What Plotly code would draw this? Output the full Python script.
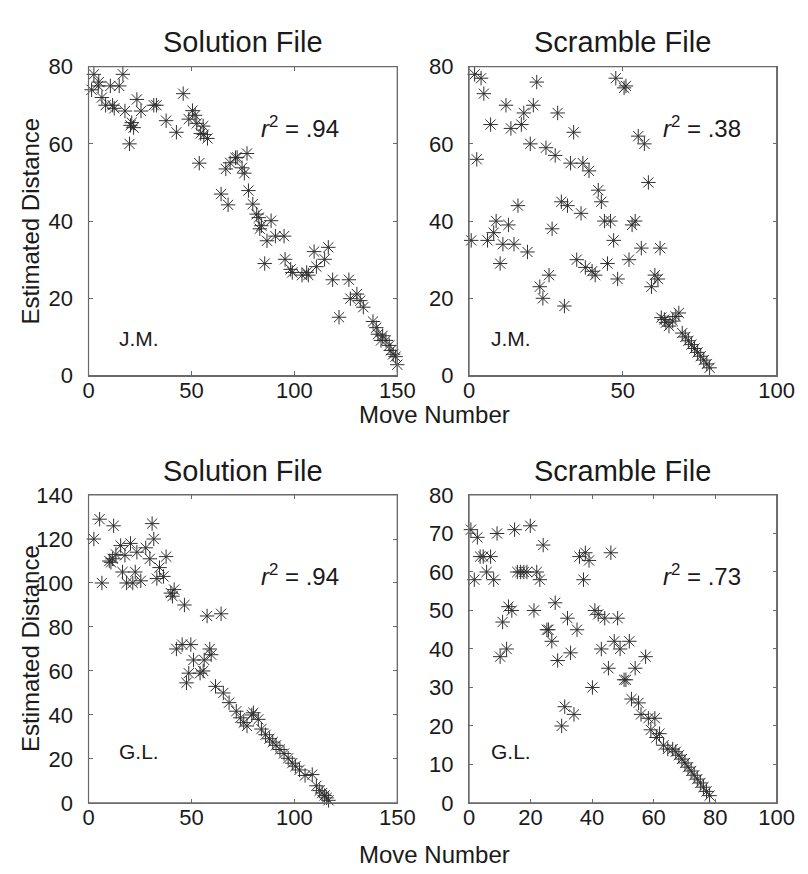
import plotly.graph_objects as go

# ---------------- data ----------------
# Top-left: J.M., Solution File
jm_sol_x = [1.5, 2.6, 4.7, 5, 6.5, 8.3, 10.6, 11.7, 12.5, 14.9, 16.7, 17.7, 19.9, 20.4, 21, 21.9, 23.5, 25.5,
            31.7, 33, 37.7, 42.7, 46, 48.7, 50.5, 51.8, 52.6, 53.8, 54.5, 55.7, 56, 57.8, 64.4, 66.7, 67.8, 68.8,
            71.4, 72.2, 74.6, 75.7, 77, 77.7, 79.8, 81.7, 82.7, 83.2, 84, 85.6, 86.7, 88.7, 90.8, 95, 95.5, 98.2,
            99, 103.7, 106, 106.8, 109.6, 110.7, 114.7, 116.5, 118.6, 121.7, 126.5, 127.2, 130.4, 132, 133.5,
            138.2, 139.8, 140.6, 142.1, 142.9, 144.5, 146.1, 146.9, 148, 149.2, 150]
jm_sol_y = [74, 78, 75, 76, 72, 70, 75, 70, 69.2, 75, 78, 68.5, 60, 64.8, 65.5, 64.2, 71.5, 68.5,
            70, 70, 66, 63, 73, 66.4, 68.6, 67.4, 65.3, 55, 62.7, 64.6, 62.4, 61.4, 47, 53.5, 44.2, 55.1,
            56.4, 56.5, 53.8, 52.4, 57.5, 47.9, 44.4, 41.8, 40.9, 38, 38.8, 29, 34.9, 40.1, 36.1, 36.1, 30.1, 27.5,
            26.7, 26, 26.7, 26, 32.1, 28.2, 30.1, 33.2, 24.8, 15.1, 24.8, 19.9, 21.1, 19.4, 17.7,
            14, 12.4, 10.7, 9.1, 10.3, 9.1, 7.8, 6.5, 5.5, 4.9, 2.8]

# Top-right: J.M., Scramble File
jm_scr_x = [0.7, 1.8, 2.5, 3.9, 4.8, 6, 7, 8, 8.8, 10.1, 11, 12, 12.8, 13.6, 14.6, 15.9, 17, 17.8, 19, 19.9,
            20.9, 22, 23, 24, 25, 26, 27, 28, 28.8, 30, 31, 32, 33, 34, 35, 36.4, 37, 37.8, 39, 40, 41, 42, 43,
            44, 45, 46, 47, 47.7, 48.3, 50.4, 51, 52, 53, 54, 55, 56, 57, 58.3, 59.3, 60.4, 61.4, 62.1, 62.5,
            63.5, 64, 65, 66.2, 67.2, 68.2, 69.3, 70.3, 71.3, 72.3, 73.3, 74.3, 75.3, 76.3, 77.3, 78.2]
jm_scr_y = [35, 78, 56, 77, 73, 35, 65, 37, 40, 29, 34, 70, 39, 64, 34, 44, 65, 68, 32, 60,
            70, 76, 23, 20, 59, 26, 38, 57, 68, 45, 18, 44, 55, 63, 30, 42, 55, 28, 53, 27, 26, 48, 45,
            40, 29, 40, 35, 77, 25, 74.5, 75, 30, 39, 40, 62, 33, 60, 50, 23, 26, 25, 33, 15,
            14.5, 13.7, 12.8, 14.1, 15.3, 16.2, 11, 10, 9, 8, 7, 6, 5, 4, 3, 2]

# Bottom-left: G.L., Solution File
gl_sol_x = [2.6, 5.4, 6.5, 10.1, 10.9, 11.7, 12.2, 13.3, 15.6, 16.5, 17.7, 18.5, 20.4, 21.5, 22.7, 23.5, 25.4,
            27.8, 29.8, 30.9, 31.7, 33.2, 34.5, 36.4, 37.7, 40, 40.8, 41.6, 42.7, 45.5, 46.6, 47.6, 48.7, 49.7,
            51, 54.2, 55.7, 56.2, 57.6, 58.9, 59.6, 61.7, 64.4, 65.5, 68.3, 71.8, 73.8, 75.4, 77, 79.3, 80.1,
            82.5, 84, 86, 87.9, 89.5, 91.1, 93, 95, 97, 99, 100.5, 102.5, 105.2, 108.7, 110.7, 112.3, 113.5,
            114.7, 115.7, 116.6]
gl_sol_y = [120, 129, 100, 110, 109.4, 111, 126, 113, 117, 105, 112.6, 100, 118, 100, 105, 114, 101,
            116, 111, 127, 120, 102, 107, 103, 112, 95.4, 94, 97, 70, 72, 90, 54.6, 59, 72,
            65, 59, 60, 65, 85, 70, 67.4, 53, 86, 50, 45.6, 41.7, 38.7, 36.5, 35, 40, 41,
            38, 33.6, 31, 29.2, 27.7, 26.2, 24.3, 22.5, 20.3, 18.1, 16.7, 15, 12.5, 12.9, 7.8, 5.6, 4.5,
            3.4, 2.3, 1.2]

# Bottom-right: G.L., Scramble File
gl_scr_x = [0.6, 1.7, 2.7, 3.6, 4.6, 5.7, 7, 8, 9.1, 10.1, 10.9, 12.2, 12.8, 13.9, 14.8, 15.7, 16.7, 17.8, 18.8,
            19.9, 21.1, 22, 23, 24.1, 25.3, 25.8, 26.9, 28, 28.8, 30.1, 31.1, 32, 33, 34.1, 35.1, 35.9, 37.2,
            37.8, 39, 40.1, 40.9, 42, 43, 44.1, 45.3, 46.1, 47.2, 48.3, 49.1, 50.4, 51, 52.1, 52.8, 54, 55.1,
            55.9, 57.4, 58.3, 59.1, 60.4, 60.9, 61.9, 63.2, 64.6, 66.2, 67.2, 68.2, 69.2, 70.2, 71.2, 72.2,
            73.2, 74.2, 75.2, 76.2, 77.2, 78.2]
gl_scr_y = [71, 58, 69, 64, 64, 60, 64, 58, 70, 38, 47, 40, 51, 50, 71, 60, 60, 60, 60,
            72, 50, 60, 58, 67, 45, 45, 42, 52, 37, 20, 25, 48, 39, 23, 45, 64, 58,
            65, 63, 30, 50, 49, 40, 48, 35, 65, 42, 48, 40, 32, 32, 42, 27, 35, 26,
            23, 38, 22, 19, 22, 17, 18, 15, 14, 14, 13.3, 12.4, 11.4, 10.4, 9.3, 8.3,
            7.2, 6.2, 5.2, 4.1, 3, 1.9]

titles = ["Solution File", "Scramble File", "Solution File", "Scramble File"]
subjects = ["J.M.", "J.M.", "G.L.", "G.L."]
r2_labels = [".94", ".38", ".94", ".73"]
x_ranges = [[0, 150], [0, 100], [0, 150], [0, 100]]
y_ranges = [[0, 80], [0, 80], [0, 140], [0, 80]]
x_dticks = [50, 50, 50, 20]
y_dticks = [20, 20, 20, 10]

series = [(jm_sol_x, jm_sol_y), (jm_scr_x, jm_scr_y), (gl_sol_x, gl_sol_y), (gl_scr_x, gl_scr_y)]

# ---------------- layout geometry ----------------
W, H = 808, 874
xdoms = [[76.8 / W, 395 / W], [469 / W, 786 / W], [76.8 / W, 395 / W], [469 / W, 786 / W]]
ydoms = [[1 - 366 / H, 1 - 48 / H], [1 - 366 / H, 1 - 48 / H], [1 - 806 / H, 1 - 489 / H], [1 - 806 / H, 1 - 489 / H]]

FONT = "Liberation Sans, Arial, Helvetica, sans-serif"
TXT = "#1a1a1a"
FRAME = "#6a6a6a"

fig = go.Figure()
for i, (xs, ys) in enumerate(series):
    sfx = "" if i == 0 else str(i + 1)
    fig.add_trace(go.Scatter(
        x=xs, y=ys, mode="markers", xaxis="x" + sfx, yaxis="y" + sfx,
        marker=dict(symbol="asterisk-open", size=12, color="#303030",
                    line=dict(color="#303030", width=1)),
        cliponaxis=False, showlegend=False, hoverinfo="x+y"))

layout = dict(width=W, height=H, margin=dict(l=0, r=0, t=0, b=0),
              plot_bgcolor="white", paper_bgcolor="white", showlegend=False,
              font=dict(family=FONT, color=TXT))

annotations = []
shapes = []
for i in range(4):
    sfx = "" if i == 0 else str(i + 1)
    axstyle = dict(showline=True, linecolor=FRAME, linewidth=1.2, mirror="ticks",
                   ticks="inside", ticklen=4, tickcolor=FRAME, tickwidth=1,
                   showgrid=False, zeroline=False,
                   tickfont=dict(family=FONT, size=22, color=TXT))
    layout["xaxis" + sfx] = dict(axstyle, domain=xdoms[i], range=x_ranges[i], dtick=x_dticks[i],
                                 tick0=0, anchor="y" + sfx, ticklabelstandoff=-5)
    layout["yaxis" + sfx] = dict(axstyle, domain=ydoms[i], range=y_ranges[i], dtick=y_dticks[i],
                                 tick0=0, anchor="x" + sfx, ticklabelstandoff=10)
    # frame box
    shapes.append(dict(type="rect", xref="x" + sfx + " domain", yref="y" + sfx + " domain",
                       x0=0, x1=1, y0=0, y1=1, line=dict(color=FRAME, width=1.2), layer="above"))
    # panel title
    annotations.append(dict(text=titles[i], xref="paper", yref="paper",
                            x=sum(xdoms[i]) / 2, y=ydoms[i][1] + 25 / H,
                            xanchor="center", yanchor="middle", showarrow=False,
                            font=dict(family=FONT, size=29, color=TXT)))
    # subject label
    annotations.append(dict(text=subjects[i], xref="x" + sfx + " domain", yref="y" + sfx + " domain",
                            x=29 / 318 if i in (0, 2) else 21 / 317,
                            y=(38 / 318) if i in (0, 1) else (53 / 317),
                            xanchor="left", yanchor="middle", showarrow=False,
                            font=dict(family=FONT, size=21, color=TXT)))
    # r^2 label
    annotations.append(dict(text="<i>r</i><sup>2</sup> = " + r2_labels[i],
                            xref="x" + sfx + " domain", yref="y" + sfx + " domain",
                            x=176 / 318 if i in (0, 2) else 198 / 317,
                            y=(256 / 318) if i in (0, 1) else (235 / 317),
                            xanchor="left", yanchor="middle", showarrow=False,
                            font=dict(family=FONT, size=24, color=TXT)))

# axis titles
for yc in [207, 647]:
    annotations.append(dict(text="Estimated Distance", xref="paper", yref="paper",
                            x=17 / W, y=1 - yc / H, textangle=-90, xanchor="center", yanchor="middle",
                            showarrow=False, font=dict(family=FONT, size=24, color=TXT)))
for yc in [406, 859]:
    annotations.append(dict(text="Move Number", xref="paper", yref="paper",
                            x=433 / W, y=1 - yc / H, xanchor="center", yanchor="middle",
                            showarrow=False, font=dict(family=FONT, size=24, color=TXT)))

layout["annotations"] = annotations
layout["shapes"] = shapes
fig.update_layout(**layout)
fig.write_html("out.html")
